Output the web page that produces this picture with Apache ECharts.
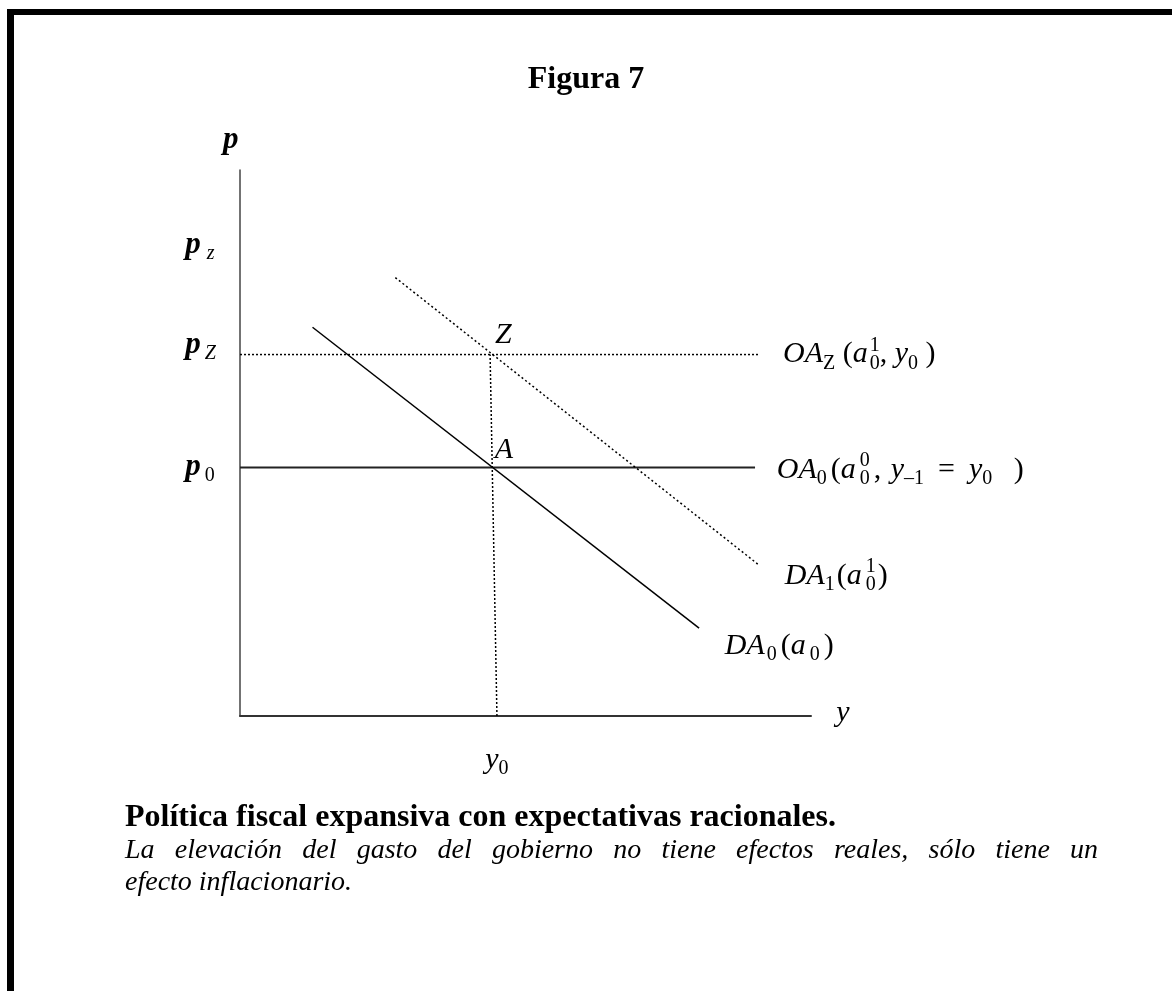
<!DOCTYPE html>
<html><head><meta charset="utf-8">
<script src="https://cdn.jsdelivr.net/npm/echarts@6/dist/echarts.min.js"></script>
<style>html,body{margin:0;padding:0;background:#fff}#c{width:1172px;height:991px}</style>
</head><body><div id="c"></div>
<script>
// ---- data (model units) ----
const titleText = 'Figura 7';
const xRange = [0, 10];
const yRange = [0, 10];
const p0 = 4.55;          // price level at A
const pZ = 6.62;          // price level at Z
const y0Bottom = 4.50;    // output y0 at the axis
const y0Top = 4.38;       // drop line top (at Z)
const oaZLine = [[0, pZ], [9.09, pZ]];
const oa0Line = [[0, p0], [9.02, p0]];
const da0Line = [[1.27, 7.12], [8.04, 1.61]];
const da1Line = [[2.72, 8.03], [9.07, 2.78]];
const dropLine = [[y0Bottom, 0], [y0Top, pZ]];
// label anchors [x, y, text, align]
const labelItems = [
  [-0.16, 10.55, '{bp|p}', 'center'],
  [-0.96, 8.63, '{bp|p}{g6|}{subIt|z}', 'left'],
  [-0.96, 6.80, '{bp|p}{g4|}{subIt|Z}', 'left'],
  [-0.96, 4.56, '{bp|p}{g4|}{sub|0}', 'left'],
  [4.61, 6.98, '{it|Z}', 'center'],
  [4.62, 4.87, '{it|A}', 'center'],
  [9.51, 6.62, '{it|OA}{subRm|Z}{rm| (}{it|a}{g2|}{sup|1}{sub|0}{rm|, }{it|y}{sub|0}{rm| )}', 'left'],
  [9.40, 4.51, '{it|OA}{sub|0}{g4|}{rm|(}{it|a}{g4|}{sup|0}{sub|0}{g4|}{rm|, }{g2|}{it|y}{sub|–1}{g14|}{rm|=}{g14|}{it|y}{sub|0}{g14|}{rm| )}', 'left'],
  [9.54, 2.56, '{it|DA}{sub|1}{g2|}{rm|(}{it|a}{g4|}{sup|1}{sub|0}{g2|}{rm|)}', 'left'],
  [8.49, 1.28, '{it|DA}{g2|}{sub|0}{g4|}{rm|(}{it|a}{g4|}{sub|0}{g4|}{rm|)}', 'left'],
  [10.56, 0.05, '{it|y}', 'center'],
  [4.50, -0.80, '{it|y}{sub|0}', 'center']
];
const captionBold = 'Política fiscal expansiva con expectativas racionales.';
const captionItalic1 = 'La elevación del gasto del gobierno no tiene efectos reales, sólo tiene un';
const captionItalic2 = 'efecto inflacionario.';

const F = 'Liberation Serif';
const chart = echarts.init(document.getElementById('c'), null, {renderer: 'canvas'});

function measure(text, font) {
  const ctx = document.createElement('canvas').getContext('2d');
  ctx.font = font;
  return ctx.measureText(text).width;
}
function justifiedWords(text, font, left, right, y) {
  const words = text.split(' ');
  const widths = words.map(w => measure(w, font));
  const total = widths.reduce((a, b) => a + b, 0);
  const gap = (right - left - total) / (words.length - 1);
  let x = left;
  return words.map((w, i) => {
    const el = {type: 'text', x: x, y: y, style: {text: w, font: font, fill: '#000', textVerticalAlign: 'middle'}};
    x += widths[i] + gap;
    return el;
  });
}

const lineBase = {type: 'line', showSymbol: false, silent: true, animation: false};
const MS = 30, SS = 20, LH = 38;
const rich = {
  it: {fontFamily: F, fontStyle: 'italic', fontSize: MS, lineHeight: LH, color: '#000'},
  rm: {fontFamily: F, fontSize: MS, lineHeight: LH, color: '#000'},
  bp: {fontFamily: F, fontStyle: 'italic', fontWeight: 'bold', fontSize: 31, lineHeight: LH, color: '#000'},
  g2: {width: 2, lineHeight: LH}, g4: {width: 4, lineHeight: LH}, g6: {width: 6, lineHeight: LH},
  g14: {width: 14, lineHeight: LH},
  sub: {fontFamily: F, fontSize: SS, verticalAlign: 'bottom', color: '#000'},
  subRm: {fontFamily: F, fontSize: SS, verticalAlign: 'bottom', color: '#000'},
  subIt: {fontFamily: F, fontStyle: 'italic', fontSize: SS, verticalAlign: 'bottom', color: '#000'},
  sup: {fontFamily: F, fontSize: SS, verticalAlign: 'top', width: 0, color: '#000'}
};

const option = {
  animation: false,
  backgroundColor: '#fff',
  title: {
    text: titleText, left: 'center', top: 64, padding: 0,
    textStyle: {fontFamily: F, fontWeight: 'bold', fontSize: 32, color: '#000'}
  },
  grid: {left: 240, top: 170, width: 571, height: 546},
  xAxis: {
    type: 'value', min: xRange[0], max: xRange[1],
    axisLine: {show: true, lineStyle: {color: '#333', width: 2}},
    axisTick: {show: false}, axisLabel: {show: false}, splitLine: {show: false}
  },
  yAxis: {
    type: 'value', min: yRange[0], max: yRange[1],
    axisLine: {show: true, lineStyle: {color: '#444', width: 1.5}},
    axisTick: {show: false}, axisLabel: {show: false}, splitLine: {show: false}
  },
  series: [
    Object.assign({}, lineBase, {name: 'OA_Z', data: oaZLine, lineStyle: {color: '#000', width: 1.5, type: [2, 2]}}),
    Object.assign({}, lineBase, {name: 'OA_0', data: oa0Line, lineStyle: {color: '#222', width: 2}}),
    Object.assign({}, lineBase, {name: 'DA_0', data: da0Line, lineStyle: {color: '#000', width: 1.5}}),
    Object.assign({}, lineBase, {name: 'DA_1', data: da1Line, lineStyle: {color: '#000', width: 1.5, type: [2, 2.6]}}),
    Object.assign({}, lineBase, {name: 'y0', data: dropLine, lineStyle: {color: '#000', width: 1.5, type: [2, 2]}}),
    {
      type: 'scatter', symbolSize: 0, clip: false, silent: true, z: 5,
      itemStyle: {opacity: 1},
      data: labelItems.map(d => ({
        value: [d[0], d[1]],
        label: {show: true, position: [0, 0], formatter: d[2], align: d[3], verticalAlign: 'middle',
                color: '#000', opacity: 1, textBorderWidth: 0, rich: rich}
      }))
    }
  ],
  graphic: [
    {type: 'rect', shape: {x: 7, y: 9, width: 7, height: 982}, style: {fill: '#000'}},
    {type: 'rect', shape: {x: 7, y: 9, width: 1165, height: 6}, style: {fill: '#000'}},
    {type: 'text', x: 125, y: 818, style: {text: captionBold, font: 'bold 32px ' + F, fill: '#000', textVerticalAlign: 'middle'}},
    ...justifiedWords(captionItalic1, 'italic 28px ' + F, 125, 1098, 851),
    {type: 'text', x: 125, y: 883, style: {text: captionItalic2, font: 'italic 28px ' + F, fill: '#000', textVerticalAlign: 'middle'}}
  ]
};
chart.setOption(option);
</script>
</body></html>
